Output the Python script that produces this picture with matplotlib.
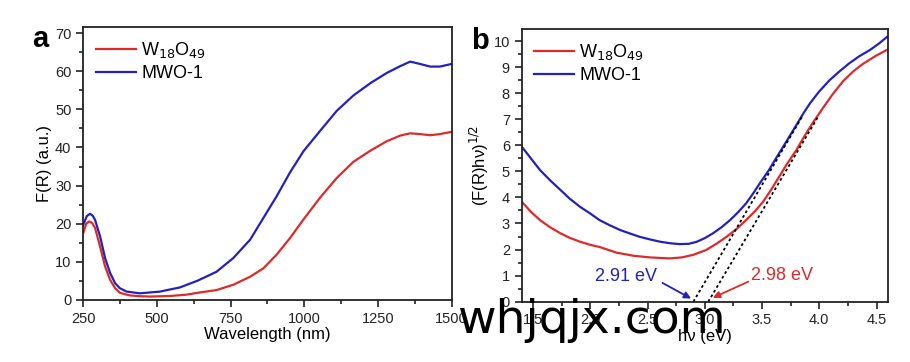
import matplotlib
matplotlib.use("Agg")
import matplotlib.pyplot as plt
from matplotlib.ticker import MultipleLocator

plt.rcParams['font.family'] = ['Liberation Sans', 'DejaVu Sans']

# panel a: Kubelka-Munk F(R) vs wavelength
wl_red = [250, 260, 270, 280, 290, 307, 324, 341, 358, 374, 392, 408, 440, 476, 544,
          600, 639, 702, 759, 816, 861, 906, 951, 997, 1053, 1110, 1166, 1223, 1279,
          1325, 1359, 1392, 1427, 1460, 1500]
fr_red = [17.6, 20.0, 20.6, 20.2, 18.9, 14.0, 8.8, 5.3, 3.1, 1.9, 1.5, 1.2, 1.0, 0.9, 1.05,
          1.4, 1.9, 2.6, 4.0, 6.1, 8.3, 11.9, 16.2, 21.1, 26.8, 32.0, 36.2, 39.1, 41.6,
          43.1, 43.7, 43.5, 43.2, 43.5, 44.1]
wl_blue = [250, 262, 273, 282, 290, 307, 324, 341, 358, 374, 397, 442, 510, 578, 639,
           702, 759, 816, 861, 906, 951, 997, 1053, 1110, 1166, 1223, 1279, 1325, 1359,
           1392, 1427, 1460, 1500]
fr_blue = [19.7, 22.0, 22.6, 22.1, 21.0, 16.7, 11.0, 7.1, 4.4, 3.1, 2.2, 1.75, 2.2, 3.3, 5.1,
           7.4, 11.0, 15.8, 21.5, 27.2, 33.4, 39.0, 44.3, 49.6, 53.6, 56.8, 59.5, 61.3, 62.5,
           61.9, 61.2, 61.2, 61.9]

# panel b: Tauc plot
e_red = [1.40, 1.48, 1.56, 1.65, 1.74, 1.82, 1.91, 2.00, 2.08, 2.23, 2.38, 2.52, 2.69,
         2.80, 2.90, 3.01, 3.10, 3.19, 3.28, 3.36, 3.44, 3.51, 3.58, 3.65, 3.72, 3.80,
         3.87, 3.94, 4.03, 4.12, 4.21, 4.30, 4.38, 4.50, 4.60]
t_red = [3.84, 3.45, 3.13, 2.85, 2.62, 2.45, 2.30, 2.18, 2.10, 1.88, 1.76, 1.70, 1.66,
         1.70, 1.80, 1.98, 2.22, 2.49, 2.80, 3.13, 3.48, 3.84, 4.30, 4.80, 5.30, 5.82,
         6.35, 6.84, 7.42, 7.98, 8.47, 8.85, 9.12, 9.45, 9.68]
e_blue = [1.40, 1.48, 1.56, 1.65, 1.74, 1.82, 1.91, 2.00, 2.08, 2.17, 2.26, 2.35, 2.43,
          2.52, 2.61, 2.70, 2.78, 2.86, 2.93, 3.00, 3.07, 3.15, 3.22, 3.29, 3.36, 3.42,
          3.48, 3.56, 3.63, 3.72, 3.80, 3.86, 3.92, 4.00, 4.09, 4.18, 4.26, 4.35, 4.44,
          4.52, 4.60]
t_blue = [5.95, 5.50, 5.05, 4.65, 4.28, 3.95, 3.64, 3.38, 3.13, 2.93, 2.75, 2.61, 2.49,
          2.39, 2.30, 2.24, 2.21, 2.22, 2.30, 2.44, 2.62, 2.87, 3.13, 3.43, 3.77, 4.14,
          4.54, 5.05, 5.56, 6.20, 6.78, 7.22, 7.62, 8.07, 8.50, 8.85, 9.14, 9.42, 9.65,
          9.90, 10.19]
tan_blue_x = [2.90, 3.85]
tan_blue_y = [0.0, 7.1]
tan_red_x = [3.03, 3.99]
tan_red_y = [0.0, 7.1]

RED = '#dd2a2a'
BLUE = '#2222bb'

fig = plt.figure(figsize=(9.1, 3.62), dpi=100)
ax1 = fig.add_axes([0.0915, 0.1713, 0.4049, 0.7533])
ax2 = fig.add_axes([0.5733, 0.1666, 0.4025, 0.7524])

for ax in (ax1, ax2):
    for s in ax.spines.values():
        s.set_linewidth(1.3)
        s.set_color('#222222')
    ax.tick_params(which='both', direction='out', top=False, right=False,
                   labelsize=10.5, width=1.2, colors='#222222')
    ax.tick_params(which='major', length=5)
    ax.tick_params(which='minor', length=3)

ax1.plot(wl_red, fr_red, color=RED, lw=1.6, label='W$_{18}$O$_{49}$')
ax1.plot(wl_blue, fr_blue, color=BLUE, lw=1.6, label='MWO-1')
ax1.set_xlim(250, 1500)
ax1.set_ylim(0, 71.5)
ax1.xaxis.set_major_locator(MultipleLocator(250))
ax1.xaxis.set_minor_locator(MultipleLocator(125))
ax1.yaxis.set_major_locator(MultipleLocator(10))
ax1.yaxis.set_minor_locator(MultipleLocator(5))
ax1.set_xlabel('Wavelength (nm)', fontsize=12, labelpad=1)
ax1.set_ylabel('F(R) (a.u.)', fontsize=12, labelpad=2)
ax1.legend(loc='upper left', frameon=False, fontsize=13, handlelength=2.2,
           handletextpad=0.3, labelspacing=0.3, borderaxespad=0.3)
ax1.text(-0.14, 1.01, 'a', transform=ax1.transAxes, fontsize=21,
         fontweight='bold', va='top')

ax2.plot(e_red, t_red, color=RED, lw=1.6, label='W$_{18}$O$_{49}$')
ax2.plot(e_blue, t_blue, color=BLUE, lw=1.6, label='MWO-1')
ax2.plot(tan_blue_x, tan_blue_y, color='black', lw=1.3, ls=(0, (1.5, 1.5)))
ax2.plot(tan_red_x, tan_red_y, color='black', lw=1.3, ls=(0, (1.5, 1.5)))
ax2.set_xlim(1.40, 4.60)
ax2.set_ylim(0, 10.45)
ax2.xaxis.set_major_locator(MultipleLocator(0.5))
ax2.xaxis.set_minor_locator(MultipleLocator(0.25))
ax2.yaxis.set_major_locator(MultipleLocator(1))
ax2.yaxis.set_minor_locator(MultipleLocator(0.5))
ax2.set_xlabel('hν (eV)', fontsize=12, labelpad=1)
ax2.set_ylabel('(F(R)hν)$^{1/2}$', fontsize=12, labelpad=2)
ax2.legend(loc='upper left', frameon=False, fontsize=13, handlelength=2.2,
           handletextpad=0.3, labelspacing=0.3, borderaxespad=0.3)
ax2.text(-0.137, 1.01, 'b', transform=ax2.transAxes, fontsize=21,
         fontweight='bold', va='top')

# band gap labels and arrows
ax2.text(2.31, 0.95, '2.91 eV', color=BLUE, fontsize=13, ha='center', va='center')
ax2.annotate('', xy=(2.88, 0.12), xytext=(2.63, 0.72),
             arrowprops=dict(arrowstyle='-|>', color=BLUE, lw=1.3,
                             shrinkA=0, shrinkB=0, mutation_scale=10))
ax2.text(3.67, 1.0, '2.98 eV', color=RED, fontsize=13, ha='center', va='center')
ax2.annotate('', xy=(3.07, 0.15), xytext=(3.38, 0.77),
             arrowprops=dict(arrowstyle='-|>', color=RED, lw=1.3,
                             shrinkA=0, shrinkB=0, mutation_scale=10))

# watermark
fig.text(457 / 910, 1 - 333 / 362, 'whjqjx.com', fontsize=34, color='black',
         va='baseline', ha='left', family=['DejaVu Sans'])

fig.savefig('out.png', dpi=100)
